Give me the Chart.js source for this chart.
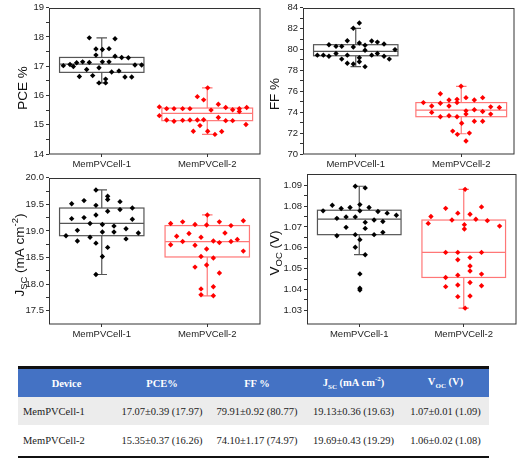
<!DOCTYPE html>
<html>
<head>
<meta charset="utf-8">
<script src="https://cdn.jsdelivr.net/npm/chart.js@4"></script>
<style>
  body { margin: 0; background: #fff; width: 520px; height: 458px; position: relative; overflow: hidden; }
  canvas { position: absolute; }
  #summary {
    position: absolute; left: 18px; top: 366px; width: 471px;
    border-collapse: collapse; table-layout: fixed;
    font-family: "Liberation Serif", "Times New Roman", serif; font-size: 10.5px; color: #222;
  }
  #summary th { background: #4472c4; color: #fff; font-weight: bold; height: 28px; padding: 0; text-align: center; border-top: 3px solid #111; }
  #summary td { padding: 0; text-align: center; }
  #summary td:first-child { text-align: left; padding-left: 5px; }
  #summary tbody tr:first-child td { background: #ececec; height: 28px; }
  #summary tbody tr:last-child td { height: 31px; border-bottom: 2px solid #111; }
  #summary sub, #summary sup { font-size: 7px; }
</style>
</head>
<body>
<canvas id="pceChart" width="264" height="172" style="left:0;top:0"></canvas>
<canvas id="ffChart" width="260" height="172" style="left:260px;top:0"></canvas>
<canvas id="jscChart" width="264" height="174" style="left:0;top:170px"></canvas>
<canvas id="vocChart" width="260" height="178" style="left:260px;top:166px"></canvas>
<table id="summary">
  <colgroup><col style="width:97px"><col style="width:94px"><col style="width:96px"><col style="width:97px"><col style="width:87px"></colgroup>
  <thead><tr></tr></thead>
  <tbody></tbody>
</table>
<script>
// ---- Data ----
const categories = ["MemPVCell-1", "MemPVCell-2"];

// PCE %
const pceTicks = [14, 15, 16, 17, 18, 19];
const pceCell1 = [17.97, 17.94, 17.59, 17.57, 17.6, 17.38, 17.34, 17.3, 17.29, 17.02, 17.06, 16.99, 17.12, 17.15, 17.13, 17.15, 17.15, 16.95, 16.89, 16.65, 16.68, 16.8, 16.84, 17.04, 17.04, 16.63, 16.63, 16.43, 16.43, 16.56];
const pceCell1Pos = [0.882, 1.126, 0.945, 1.006, 1.069, 0.945, 1.126, 1.189, 1.252, 0.636, 0.699, 0.731, 0.762, 0.819, 0.882, 1.006, 1.069, 0.974, 0.857, 0.788, 0.914, 1.094, 1.163, 1.315, 1.378, 1.22, 1.284, 0.974, 1.037, 1.037];
const pceCell2 = [16.26, 15.96, 15.85, 15.7, 15.61, 15.55, 15.55, 15.55, 15.55, 15.59, 15.51, 15.55, 15.59, 15.5, 15.45, 15.31, 15.16, 15.12, 15.15, 15.16, 15.16, 15.17, 15.25, 15.14, 15.14, 14.97, 15.01, 14.78, 14.78, 14.77, 14.67];
const pceCell2Pos = [2.004, 1.906, 1.966, 2.105, 1.546, 1.615, 1.685, 1.767, 1.836, 2.175, 2.241, 2.304, 2.374, 2.036, 2.304, 1.546, 1.615, 1.685, 1.767, 1.836, 1.906, 1.966, 2.105, 2.175, 2.241, 1.931, 2.367, 1.868, 2.004, 2.137, 2.073];
// [lower whisker, Q1, median, Q3, upper whisker]
const pceBox1 = [16.43, 16.79, 17.07, 17.3, 17.97];
const pceBox2 = [14.67, 15.14, 15.39, 15.57, 16.26];

// FF %
const ffTicks = [70, 72, 74, 76, 78, 80, 82, 84];
const ffCell1 = [82.53, 82.03, 80.46, 80.3, 80.3, 80.84, 80.62, 80.4, 80.81, 80.71, 80.52, 80.24, 79.99, 79.93, 79.46, 79.46, 79.36, 79.62, 79.46, 79.21, 79.46, 79.62, 79.36, 79.08, 79.08, 78.68, 78.61, 78.83, 78.36];
const ffCell1Pos = [1.034, 0.977, 0.746, 0.813, 0.867, 0.92, 1.034, 1.088, 1.151, 1.205, 1.268, 0.977, 1.372, 1.088, 0.636, 0.693, 0.746, 0.813, 0.92, 1.034, 1.151, 1.205, 1.268, 1.318, 0.867, 0.92, 0.977, 1.034, 1.088];
const ffCell2 = [76.48, 75.76, 74.92, 74.6, 74.86, 75.17, 75.23, 74.92, 75.39, 75.17, 75.39, 74.51, 74.45, 74.6, 73.98, 73.57, 73.66, 73.57, 74.13, 73.82, 74.23, 74.07, 73.82, 72.94, 73.13, 73.13, 72.19, 71.88, 72.0, 71.25];
const ffCell2Pos = [1.998, 1.802, 1.641, 1.72, 1.802, 1.884, 1.96, 1.96, 2.045, 2.124, 2.203, 2.279, 2.361, 1.884, 1.72, 1.802, 1.884, 1.96, 2.045, 2.045, 2.124, 2.203, 2.279, 2.004, 2.124, 2.203, 1.919, 1.963, 2.077, 2.045];
const ffBox1 = [78.36, 79.4, 79.83, 80.46, 82.03];
const ffBox2 = [71.94, 73.57, 74.2, 74.92, 76.48];

// Jsc (mA cm-2)
const jscTicks = [17.5, 18.0, 18.5, 19.0, 19.5, 20.0];
const jscCell1 = [19.77, 19.65, 19.59, 19.51, 19.57, 19.48, 19.55, 19.43, 19.37, 19.4, 19.23, 19.25, 19.3, 19.22, 19.14, 19.12, 19.09, 18.91, 19.01, 18.98, 18.98, 19.04, 18.96, 18.81, 18.88, 18.77, 18.85, 18.69, 18.52, 18.18];
const jscCell1Pos = [0.945, 1.056, 1.056, 0.715, 0.832, 0.945, 1.173, 1.29, 1.056, 1.173, 0.715, 0.832, 0.945, 1.29, 0.889, 1.006, 1.116, 0.661, 0.769, 1.006, 1.116, 1.23, 1.347, 0.769, 0.889, 0.945, 1.23, 1.056, 1.006, 0.945];
const jscCell2 = [19.3, 19.14, 19.17, 19.12, 19.11, 19.17, 19.1, 19.19, 18.9, 18.95, 18.96, 18.84, 18.74, 18.8, 18.73, 18.88, 18.81, 18.78, 18.8, 18.66, 18.62, 18.52, 18.49, 18.32, 18.36, 18.21, 17.91, 17.95, 17.8, 17.78];
const jscCell2Pos = [2.001, 1.653, 1.767, 1.884, 1.994, 2.115, 2.225, 2.342, 1.71, 1.827, 2.168, 2.285, 1.653, 1.767, 1.884, 1.941, 2.058, 2.115, 2.225, 1.994, 2.342, 1.941, 2.058, 1.884, 1.994, 2.115, 1.941, 2.058, 1.941, 2.058];
const jscBox1 = [18.18, 18.91, 19.14, 19.43, 19.77];
const jscBox2 = [17.78, 18.51, 18.8, 19.1, 19.3];

// Voc (V)
const vocTicks = [1.03, 1.04, 1.05, 1.06, 1.07, 1.08, 1.09];
const vocCell1 = [1.0895, 1.0887, 1.0804, 1.0777, 1.0788, 1.0793, 1.0807, 1.0793, 1.0777, 1.0774, 1.0766, 1.0756, 1.0741, 1.0748, 1.0748, 1.0733, 1.0726, 1.0722, 1.0698, 1.0693, 1.0658, 1.0663, 1.0663, 1.0674, 1.0639, 1.0603, 1.0567, 1.0475, 1.0406, 1.0398];
const vocCell1Pos = [0.962, 1.057, 0.742, 0.654, 0.827, 0.912, 1.006, 1.094, 1.006, 1.179, 1.267, 1.355, 0.786, 0.874, 0.962, 1.142, 1.226, 1.057, 0.874, 1.057, 0.786, 0.962, 1.142, 1.226, 1.006, 0.962, 1.057, 1.006, 1.006, 1.006];
const vocCell2 = [1.088, 1.0789, 1.0796, 1.075, 1.0766, 1.0761, 1.0737, 1.073, 1.0733, 1.0717, 1.0711, 1.069, 1.0704, 1.0578, 1.0578, 1.0578, 1.0543, 1.0553, 1.0513, 1.0489, 1.0458, 1.0469, 1.0474, 1.0414, 1.0422, 1.0434, 1.0418, 1.0366, 1.0369, 1.0311];
const vocCell2Pos = [2.013, 1.827, 2.17, 1.686, 1.943, 2.06, 2.116, 2.226, 1.887, 1.66, 2.006, 2.006, 2.343, 1.827, 1.943, 2.17, 1.943, 2.06, 2.06, 2.06, 1.827, 1.943, 2.17, 1.827, 1.943, 2.06, 2.17, 1.943, 2.06, 2.013];
const vocBox1 = [1.0567, 1.0663, 1.0737, 1.078, 1.0895];
const vocBox2 = [1.0311, 1.0458, 1.0578, 1.0733, 1.088];

// Summary table
const tableHeaders = ["Device", "PCE%", "FF %", "J<sub>SC</sub> (mA cm<sup>-2</sup>)", "V<sub>OC</sub> (V)"];
const pceSummary = ["17.07±0.39 (17.97)", "15.35±0.37 (16.26)"];
const ffSummary = ["79.91±0.92 (80.77)", "74.10±1.17 (74.97)"];
const jscSummary = ["19.13±0.36 (19.63)", "19.69±0.43 (19.29)"];
const vocSummary = ["1.07±0.01 (1.09)", "1.06±0.02 (1.08)"];

/* ---------------------------- plugins ---------------------------- */
const FONT = "'Liberation Sans', Arial, sans-serif";

// full box frame round the plot area (Origin style)
const framePlugin = {
  id: "frame",
  afterDraw(chart) {
    const { ctx, chartArea: a } = chart;
    ctx.save();
    ctx.strokeStyle = "#333";
    ctx.lineWidth = 1;
    const l = Math.round(a.left) + 0.5, t = Math.round(a.top) + 0.5;
    ctx.strokeRect(l, t, Math.round(a.right) - l, Math.round(a.bottom) - t);
    ctx.restore();
  },
};

// box + whiskers, drawn through the chart scales
const boxPlugin = {
  id: "boxes",
  beforeDatasetsDraw(chart, _args, opts) {
    const { ctx, scales: { x, y } } = chart;
    ctx.save();
    (opts.items || []).forEach((b) => {
      const [lo, q1, med, q3, hi] = b.stats;
      const xl = x.getPixelForValue(b.at - b.width / 2);
      const xr = x.getPixelForValue(b.at + b.width / 2);
      const xc = x.getPixelForValue(b.at);
      const cl = x.getPixelForValue(b.at - 0.05);
      const cr = x.getPixelForValue(b.at + 0.05);
      ctx.strokeStyle = b.color;
      ctx.lineWidth = 1.2;
      ctx.strokeRect(xl, y.getPixelForValue(q3), xr - xl, y.getPixelForValue(q1) - y.getPixelForValue(q3));
      ctx.beginPath();
      ctx.moveTo(xl, y.getPixelForValue(med));
      ctx.lineTo(xr, y.getPixelForValue(med));
      ctx.moveTo(xc, y.getPixelForValue(q3));
      ctx.lineTo(xc, y.getPixelForValue(hi));
      ctx.moveTo(cl, y.getPixelForValue(hi));
      ctx.lineTo(cr, y.getPixelForValue(hi));
      ctx.moveTo(xc, y.getPixelForValue(q1));
      ctx.lineTo(xc, y.getPixelForValue(lo));
      ctx.moveTo(cl, y.getPixelForValue(lo));
      ctx.lineTo(cr, y.getPixelForValue(lo));
      ctx.stroke();
    });
    ctx.restore();
  },
};

// rotated y title with sub/superscripts
const richTitlePlugin = {
  id: "richTitle",
  afterDraw(chart, _args, opts) {
    if (!opts.parts) return;
    const { ctx } = chart;
    const size = opts.size || 13.5;
    const fontFor = (p) => `${p.sub || p.sup ? size * 0.7 : size}px ${FONT}`;
    let total = 0;
    ctx.save();
    opts.parts.forEach((p) => {
      ctx.font = fontFor(p);
      total += ctx.measureText(p.t).width;
    });
    ctx.translate(opts.x, opts.y);
    ctx.rotate(-Math.PI / 2);
    ctx.fillStyle = "#111";
    ctx.textBaseline = "middle";
    let cx = -total / 2;
    opts.parts.forEach((p) => {
      ctx.font = fontFor(p);
      const dy = p.sub ? size * 0.3 : p.sup ? -size * 0.35 : 0;
      ctx.fillText(p.t, cx, dy);
      cx += ctx.measureText(p.t).width;
    });
    ctx.restore();
  },
};

/* --------------------------- chart maker -------------------------- */
function toPoints(values, pos) {
  return values.map((v, i) => ({ x: pos[i], y: v }));
}

function withMinors(majors) {
  const out = majors.slice();
  for (let i = 0; i < majors.length - 1; i++) out.push((majors[i] + majors[i + 1]) / 2);
  return out.sort((a, b) => a - b);
}

function makePanel(canvasId, cfg) {
  const el = document.getElementById(canvasId);
  const tickFont = { family: FONT, size: 9.5 };
  const isMajor = (v) => cfg.ticks.some((m) => Math.abs(m - v) < 1e-9);
  return new Chart(el.getContext("2d"), {
    type: "scatter",
    data: {
      datasets: [
        {
          data: toPoints(cfg.cell1, cfg.cell1Pos),
          backgroundColor: "#000",
          borderWidth: 0,
          pointStyle: "rectRot",
          pointRadius: 2.7,
        },
        {
          data: toPoints(cfg.cell2, cfg.cell2Pos),
          backgroundColor: "#ff0000",
          borderWidth: 0,
          pointStyle: "rectRot",
          pointRadius: 2.7,
        },
      ],
    },
    options: {
      responsive: false,
      animation: false,
      layout: { padding: { top: cfg.padTop, right: cfg.padRight, left: 0, bottom: 0 } },
      plugins: {
        legend: { display: false },
        tooltip: { enabled: false },
        boxes: {
          items: [
            { at: 1, width: cfg.boxWidths[0], stats: cfg.box1, color: "#555" },
            { at: 2, width: cfg.boxWidths[1], stats: cfg.box2, color: "#ff7777" },
          ],
        },
        richTitle: { parts: cfg.title, x: cfg.titleX, y: cfg.titleY, size: 13.5 },
      },
      scales: {
        x: {
          type: "linear",
          min: 0.5,
          max: 2.5,
          afterFit(s) { s.height = cfg.xHeight; },
          afterBuildTicks(s) { s.ticks = [{ value: 1 }, { value: 2 }]; },
          ticks: {
            autoSkip: false,
            maxRotation: 0,
            padding: 2,
            color: "#222",
            font: tickFont,
            callback: (v) => categories[Math.round(v) - 1],
          },
          grid: { drawOnChartArea: false, tickLength: 3, color: "#333" },
          border: { display: false },
        },
        y: {
          type: "linear",
          min: cfg.range[0],
          max: cfg.range[1],
          afterFit(s) { s.width = cfg.yWidth; },
          afterBuildTicks(s) {
            s.ticks = withMinors(cfg.ticks).map((v) => ({ value: v }));
          },
          ticks: {
            autoSkip: false,
            padding: 2,
            color: "#222",
            font: tickFont,
            callback: (v) => (isMajor(v) ? v.toFixed(cfg.decimals) : ""),
          },
          grid: { drawOnChartArea: false, tickLength: 3, color: "#333" },
          border: { display: false },
        },
      },
    },
    plugins: [boxPlugin, framePlugin, richTitlePlugin],
  });
}

makePanel("pceChart", {
  cell1: pceCell1, cell1Pos: pceCell1Pos, cell2: pceCell2, cell2Pos: pceCell2Pos,
  box1: pceBox1, box2: pceBox2, boxWidths: [0.8, 0.86],
  ticks: pceTicks, range: [14, 19], decimals: 0,
  padTop: 5, padRight: 4, yWidth: 49, xHeight: 18,
  title: [{ t: "PCE %" }], titleX: 23, titleY: 88,
});

makePanel("ffChart", {
  cell1: ffCell1, cell1Pos: ffCell1Pos, cell2: ffCell2, cell2Pos: ffCell2Pos,
  box1: ffBox1, box2: ffBox2, boxWidths: [0.8, 0.86],
  ticks: ffTicks, range: [70, 84], decimals: 0,
  padTop: 5, padRight: 6, yWidth: 43, xHeight: 18,
  title: [{ t: "FF %" }], titleX: 15, titleY: 94,
});

makePanel("jscChart", {
  cell1: jscCell1, cell1Pos: jscCell1Pos, cell2: jscCell2, cell2Pos: jscCell2Pos,
  box1: jscBox1, box2: jscBox2, boxWidths: [0.8, 0.8],
  ticks: jscTicks, range: [17.25, 20.0], decimals: 1,
  padTop: 6, padRight: 4, yWidth: 49, xHeight: 20,
  title: [{ t: "J" }, { t: "SC", sub: true }, { t: " (mA cm" }, { t: "-2", sup: true }, { t: ")" }],
  titleX: 20, titleY: 85,
});

makePanel("vocChart", {
  cell1: vocCell1, cell1Pos: vocCell1Pos, cell2: vocCell2, cell2Pos: vocCell2Pos,
  box1: vocBox1, box2: vocBox2, boxWidths: [0.8, 0.8],
  ticks: vocTicks, range: [1.0235, 1.0955], decimals: 2,
  padTop: 6, padRight: 1, yWidth: 47, xHeight: 20,
  title: [{ t: "V" }, { t: "OC", sub: true }, { t: " (V)" }],
  titleX: 15, titleY: 87,
});

/* ------------------------- summary table ------------------------- */
const headRow = document.querySelector("#summary thead tr");
tableHeaders.forEach((h) => {
  const th = document.createElement("th");
  th.innerHTML = h;
  headRow.appendChild(th);
});
const body = document.querySelector("#summary tbody");
categories.forEach((name, i) => {
  const tr = document.createElement("tr");
  [name, pceSummary[i], ffSummary[i], jscSummary[i], vocSummary[i]].forEach((txt) => {
    const td = document.createElement("td");
    td.textContent = txt;
    tr.appendChild(td);
  });
  body.appendChild(tr);
});
</script>
</body>
</html>
